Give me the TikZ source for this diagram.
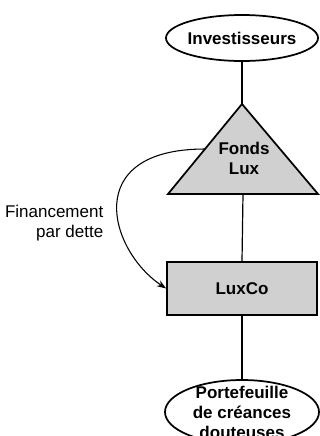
\documentclass[tikz,border=0pt]{standalone}
\usepackage{fontspec}
\setmainfont{Liberation Sans}
\usepackage{tikz}
\usetikzlibrary{calc,arrows.meta,shapes.geometric}

\definecolor{boxgray}{RGB}{208,208,208}

\tikzset{
  holder/.style={draw, line width=1.3pt, ellipse, fill=white, font=\bfseries\fontsize{12.75}{15}\selectfont, align=center},
  entity/.style={draw, line width=1.3pt, fill=boxgray, font=\bfseries\fontsize{12.75}{15}\selectfont, align=center},
  link/.style={line width=0.9pt},
  finlink/.style={line width=0.8pt, -{Stealth[length=7pt,width=5pt]}}
}

\begin{document}
\begin{tikzpicture}[x=0.75pt,y=-0.75pt]
  \useasboundingbox (0,0) rectangle (320,436);

  % Investors on top
  \node[holder, minimum width=114pt, minimum height=34.5pt, inner xsep=-3pt, inner ysep=0pt] (inv) at (242,38) {Investisseurs};

  % Fund triangle
  \coordinate (apex) at (242,104);
  \coordinate (baseL) at (168,194);
  \coordinate (baseR) at (318,194);
  \coordinate (baseM) at ($(baseL)!0.5!(baseR)$);
  \coordinate (fondsL) at ($(apex)!0.5!(baseL)$);
  \filldraw[line width=1.3pt, fill=boxgray, line join=miter] (apex) -- (baseR) -- (baseL) -- cycle;
  \node[font=\bfseries\fontsize{12.75}{15}\selectfont, align=center] (fonds) at (244,158) {Fonds\\Lux};

  % LuxCo box
  \node[entity, minimum width=112.5pt, minimum height=39.75pt] (lux) at (242,288.5) {LuxCo};

  % Portfolio at the bottom (cut by the page edge)
  \node[holder, minimum width=115.5pt, minimum height=48pt, inner xsep=-1pt, inner ysep=-6pt] (port) at (242,412) {Portefeuille\\de créances\\douteuses};

  % Links
  \draw[link] (inv.south) -- (apex);
  \draw[link] (baseM) -- (lux.north);
  \draw[link] (lux.south) -- (port.north);

  % Debt financing
  \draw[finlink] (fondsL) .. controls +(-125,0) and +(-57,-38) .. (lux.west);
  \node[anchor=east, align=right, font=\fontsize{12.75}{15}\selectfont] (fin) at (108,223) {Financement\\par dette};
\end{tikzpicture}
\end{document}
